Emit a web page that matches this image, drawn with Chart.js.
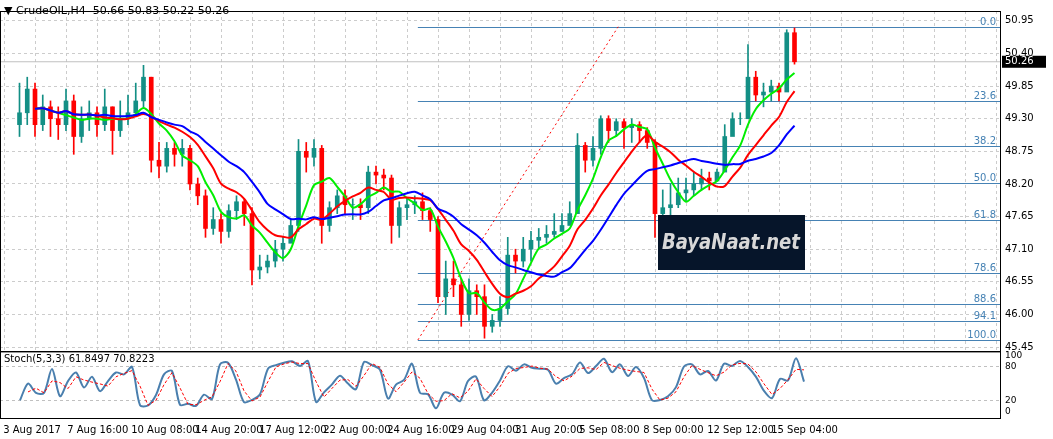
<!DOCTYPE html>
<html>
<head>
<meta charset="utf-8">
<script src="https://cdn.jsdelivr.net/npm/chart.js@4/dist/chart.umd.min.js"></script>
<style>
  body { margin: 0; background: #fff; width: 1053px; height: 439px; overflow: hidden; font-family: "DejaVu Sans", sans-serif; }
  #mainBox { position: absolute; left: 0; top: 0; width: 1053px; height: 362px; }
  #stochBox { position: absolute; left: 0; top: 341px; width: 1053px; height: 98px; }
</style>
</head>
<body>
<div id="mainBox"><canvas id="mainChart"></canvas></div>
<div id="stochBox"><canvas id="stochChart"></canvas></div>
<script>
// H4 bars (compressed two to one)
const closes = [49.4,49.8,49.2,49.5,49.3,49.2,49.6,49.0,49.3,49.4,49.2,49.5,49.1,49.3,49.4,49.6,50.0,48.6,48.5,48.8,
  48.7,48.8,48.2,48.0,47.45,47.6,47.4,47.75,47.9,47.7,46.75,46.8,46.9,47.1,47.2,47.5,48.75,48.65,48.8,47.5,
  47.8,48.0,47.85,47.85,47.8,48.4,48.35,48.3,47.5,47.8,47.85,47.9,47.75,47.6,46.3,46.6,46.5,46.0,46.4,46.3,
  45.8,45.9,46.1,47.0,46.9,47.1,47.25,47.3,47.35,47.4,47.5,47.7,48.85,48.6,48.8,49.3,49.1,49.25,49.15,49.2,
  49.1,48.9,47.7,47.8,47.85,48.05,48.1,48.2,48.3,48.25,48.4,49.0,49.3,49.3,50.0,49.7,49.75,49.85,49.75,50.75,50.26];
const opens = [49.2].concat(closes.slice(0, -1));
const highs = [49.9,50.0,49.9,49.7,49.6,49.5,49.8,49.7,49.5,49.6,49.5,49.8,49.5,49.6,49.7,49.9,50.2,50.0,48.9,48.9,
  48.9,48.95,48.85,48.3,48.1,47.8,47.7,47.85,48.0,47.95,47.8,47.0,47.0,47.25,47.3,47.6,48.95,48.9,48.95,48.85,
  47.9,48.1,48.1,47.95,47.95,48.5,48.5,48.45,48.35,47.9,47.95,48.0,48.05,47.8,47.65,46.9,46.9,46.6,46.6,46.5,
  46.5,46.0,46.3,47.3,47.1,47.3,47.4,47.45,47.5,47.7,47.7,47.9,49.05,48.9,49.0,49.35,49.35,49.3,49.3,49.3,
  49.25,49.15,48.95,48.1,48.2,48.3,48.3,48.4,48.45,48.4,48.45,49.2,49.4,49.4,50.55,50.1,49.9,49.95,49.9,50.8,50.83];
const lows = [49.0,49.2,49.0,49.1,49.0,48.95,49.1,48.7,48.9,49.1,49.0,49.1,48.7,49.0,49.2,49.4,49.5,48.4,48.3,48.4,
  48.5,48.5,48.1,47.85,47.3,47.35,47.2,47.3,47.6,47.5,46.5,46.6,46.7,46.8,46.9,47.3,47.4,48.4,48.5,47.2,
  47.4,47.7,47.7,47.6,47.6,47.7,48.2,48.1,47.2,47.3,47.6,47.7,47.6,47.4,46.2,46.0,46.3,45.8,45.9,46.0,
  45.6,45.7,45.8,46.0,46.7,46.8,46.9,47.1,47.2,47.3,47.4,47.6,47.7,48.4,48.5,48.7,48.9,49.0,48.8,48.9,
  48.9,48.8,47.3,47.6,47.0,47.8,47.9,48.0,48.1,48.1,48.3,48.9,49.1,49.2,49.6,49.6,49.5,49.6,49.6,49.8,50.22];

const priceTicks = [50.95, 50.40, 49.85, 49.30, 48.75, 48.20, 47.65, 47.10, 46.55, 46.00, 45.45];
const dateLabels = ['3 Aug 2017','7 Aug 16:00','10 Aug 08:00','14 Aug 20:00','17 Aug 12:00','22 Aug 00:00',
  '24 Aug 16:00','29 Aug 04:00','31 Aug 20:00','5 Sep 08:00','8 Sep 00:00','12 Sep 12:00','15 Sep 04:00'];
const fibLevels = ['0.0','23.6','38.2','50.0','61.8','78.6','88.6','94.1','100.0'];
const fibHigh = 50.85, fibLow = 45.57;
const lastPrice = 50.26;

const UP = '#138f85', DOWN = '#ff0000';
const idx = closes.map((_, i) => i);

// moving averages from closes
function sma(arr, p) {
  return arr.map((_, i) => {
    const w = arr.slice(Math.max(0, i - p + 1), i + 1).filter(v => v !== null);
    return w.length < Math.min(p, 3) ? null : w.reduce((a, b) => a + b, 0) / w.length;
  });
}
const maFast = sma(closes, 5), maMid = sma(closes, 10), maSlow = sma(closes, 16);

// stochastic (shortened for the compressed bars)
const rawK = idx.map(i => {
  if (i < 2) return null;
  const hh = Math.max(...highs.slice(i - 2, i + 1)), ll = Math.min(...lows.slice(i - 2, i + 1));
  return (closes[i] - ll) / (hh - ll) * 100;
});
const stK = rawK, stD = sma(rawK, 2);

const pts = arr => arr.map((v, i) => ({ x: i, y: v }));
const grid = { color: '#cccccc', lineWidth: 1, drawTicks: false };
const dashBorder = { display: false, dash: [3, 3] };
const xMin = -0.5, xMax = 124.5;

const overlay = {
  id: 'overlay',
  beforeDatasetsDraw(chart) {
    const { ctx, chartArea: a, scales: { x, y } } = chart;
    ctx.save();
    ctx.strokeStyle = '#c0c0c0';
    ctx.beginPath(); ctx.moveTo(a.left, y.getPixelForValue(lastPrice)); ctx.lineTo(a.right, y.getPixelForValue(lastPrice)); ctx.stroke();
    const x0 = x.getPixelForValue(51.4);
    ctx.font = '10px "DejaVu Sans"';
    ctx.textAlign = 'right';
    ctx.fillStyle = '#4682b4';
    fibLevels.forEach(l => {
      const v = fibHigh - parseFloat(l) / 100 * (fibHigh - fibLow);
      const py = Math.round(y.getPixelForValue(v)) + 0.5;
      ctx.strokeStyle = '#4682b4';
      ctx.beginPath(); ctx.moveTo(x0, py); ctx.lineTo(a.right, py); ctx.stroke();
      ctx.fillText(l, a.right - 4, py - 3);
    });
    ctx.strokeStyle = '#ff0000'; ctx.setLineDash([2, 3]);
    ctx.beginPath(); ctx.moveTo(x0, y.getPixelForValue(fibLow)); ctx.lineTo(x.getPixelForValue(77.25), y.getPixelForValue(fibHigh)); ctx.stroke();
    ctx.restore();
  },
  afterDraw(chart) {
    const { ctx, chartArea: a, scales: { y } } = chart;
    ctx.save();
    ctx.fillStyle = '#06152a';
    ctx.fillRect(658, 215, 147, 55);
    ctx.font = 'italic bold 21px "DejaVu Sans Condensed", "DejaVu Sans"';
    ctx.fillStyle = '#d8d8d8';
    ctx.textAlign = 'left'; ctx.textBaseline = 'middle';
    ctx.fillText('BayaNaat.net', 662, 244, 138);
    ctx.strokeStyle = '#000'; ctx.lineWidth = 1;
    ctx.strokeRect(a.left + 0.5, a.top + 0.5, a.right - a.left, a.bottom - a.top);
    ctx.font = '11px "DejaVu Sans"'; ctx.fillStyle = '#000';
    ctx.fillText('\u25BC CrudeOIL,H4  50.66 50.83 50.22 50.26', 4, 11);
    const py = y.getPixelForValue(lastPrice);
    ctx.fillStyle = '#000'; ctx.fillRect(a.right + 2, py - 6, 44, 12);
    ctx.fillStyle = '#fff'; ctx.font = '10px "DejaVu Sans"';
    ctx.fillText(lastPrice.toFixed(2), a.right + 5, py);
    ctx.restore();
  }
};

new Chart(document.getElementById('mainChart'), {
  type: 'bar',
  data: {
    datasets: [
      { type: 'line', data: pts(maSlow), borderColor: '#0000ff', borderWidth: 2, pointRadius: 0, tension: 0.3, order: 1 },
      { type: 'line', data: pts(maMid), borderColor: '#ff0000', borderWidth: 2, pointRadius: 0, tension: 0.3, order: 2 },
      { type: 'line', data: pts(maFast), borderColor: '#00ee00', borderWidth: 2, pointRadius: 0, tension: 0.3, order: 3 },
      { data: idx.map(i => ({ x: i, y: [opens[i], closes[i]] })), grouped: false, barThickness: 4,
        backgroundColor: idx.map(i => closes[i] >= opens[i] ? UP : DOWN), order: 4 },
      { data: idx.map(i => ({ x: i, y: [lows[i], highs[i]] })), grouped: false, barThickness: 1,
        backgroundColor: idx.map(i => closes[i] >= opens[i] ? UP : DOWN), order: 5 }
    ]
  },
  options: {
    responsive: true, maintainAspectRatio: false, animation: false,
    layout: { padding: { top: 4, bottom: 0 } },
    plugins: { legend: { display: false }, tooltip: { enabled: false } },
    scales: {
      x: { type: 'linear', min: xMin, max: xMax, grid, border: dashBorder,
        ticks: { display: false },
        afterFit: s => { s.height = 0; },
        afterBuildTicks: s => { s.ticks = []; for (let v = 0; v <= 124; v += 4) s.ticks.push({ value: v }); } },
      y: { position: 'right', min: 45.384, max: 51.116, grid, border: dashBorder,
        afterBuildTicks: s => { s.ticks = priceTicks.map(v => ({ value: v })); },
        afterFit: s => { s.width = 53; },
        ticks: { color: '#000', font: { size: 10, family: 'DejaVu Sans' }, padding: 5, callback: v => v.toFixed(2) } }
    }
  },
  plugins: [overlay]
});

const stochOverlay = {
  id: 'stochOverlay',
  afterDraw(chart) {
    const { ctx, chartArea: a } = chart;
    ctx.save();
    ctx.strokeStyle = '#000';
    ctx.strokeRect(a.left + 0.5, a.top + 0.5, a.right - a.left, a.bottom - a.top);
    ctx.font = '10px "DejaVu Sans"'; ctx.fillStyle = '#000'; ctx.textBaseline = 'top';
    ctx.fillText('Stoch(5,3,3) 61.8497 70.8223', 4, a.top + 3);
    ctx.restore();
  }
};

new Chart(document.getElementById('stochChart'), {
  type: 'line',
  data: {
    datasets: [
      { data: pts(stD), borderColor: '#ff0000', borderWidth: 1, borderDash: [3, 2], pointRadius: 0 },
      { data: pts(stK), borderColor: '#4a7fae', borderWidth: 2, pointRadius: 0, tension: 0.3 }
    ]
  },
  options: {
    responsive: true, maintainAspectRatio: false, animation: false,
    layout: { padding: { top: 0 } },
    plugins: { legend: { display: false }, tooltip: { enabled: false } },
    scales: {
      x: { type: 'linear', min: xMin, max: xMax, border: { display: false },
        grid: { display: false, drawTicks: true, tickLength: 3 },
        afterBuildTicks: s => { s.ticks = dateLabels.map((_, k) => ({ value: k * 8 - 0.1 })); },
        ticks: { align: 'start', autoSkip: false, maxRotation: 0, color: '#000', padding: 3,
          font: { size: 10, family: 'DejaVu Sans' }, callback: (v, k) => dateLabels[k] } },
      y: { position: 'right', min: -12, max: 108,
        grid: { color: c => (c.tick.value === 20 || c.tick.value === 80) ? '#c0c0c0' : 'transparent', drawTicks: false },
        border: dashBorder,
        afterBuildTicks: s => { s.ticks = [0, 20, 80, 100].map(v => ({ value: v })); },
        afterFit: s => { s.width = 53; },
        ticks: { color: '#000', font: { size: 9, family: 'DejaVu Sans' }, padding: 5 } }
    }
  },
  plugins: [stochOverlay]
});
</script>
</body>
</html>
